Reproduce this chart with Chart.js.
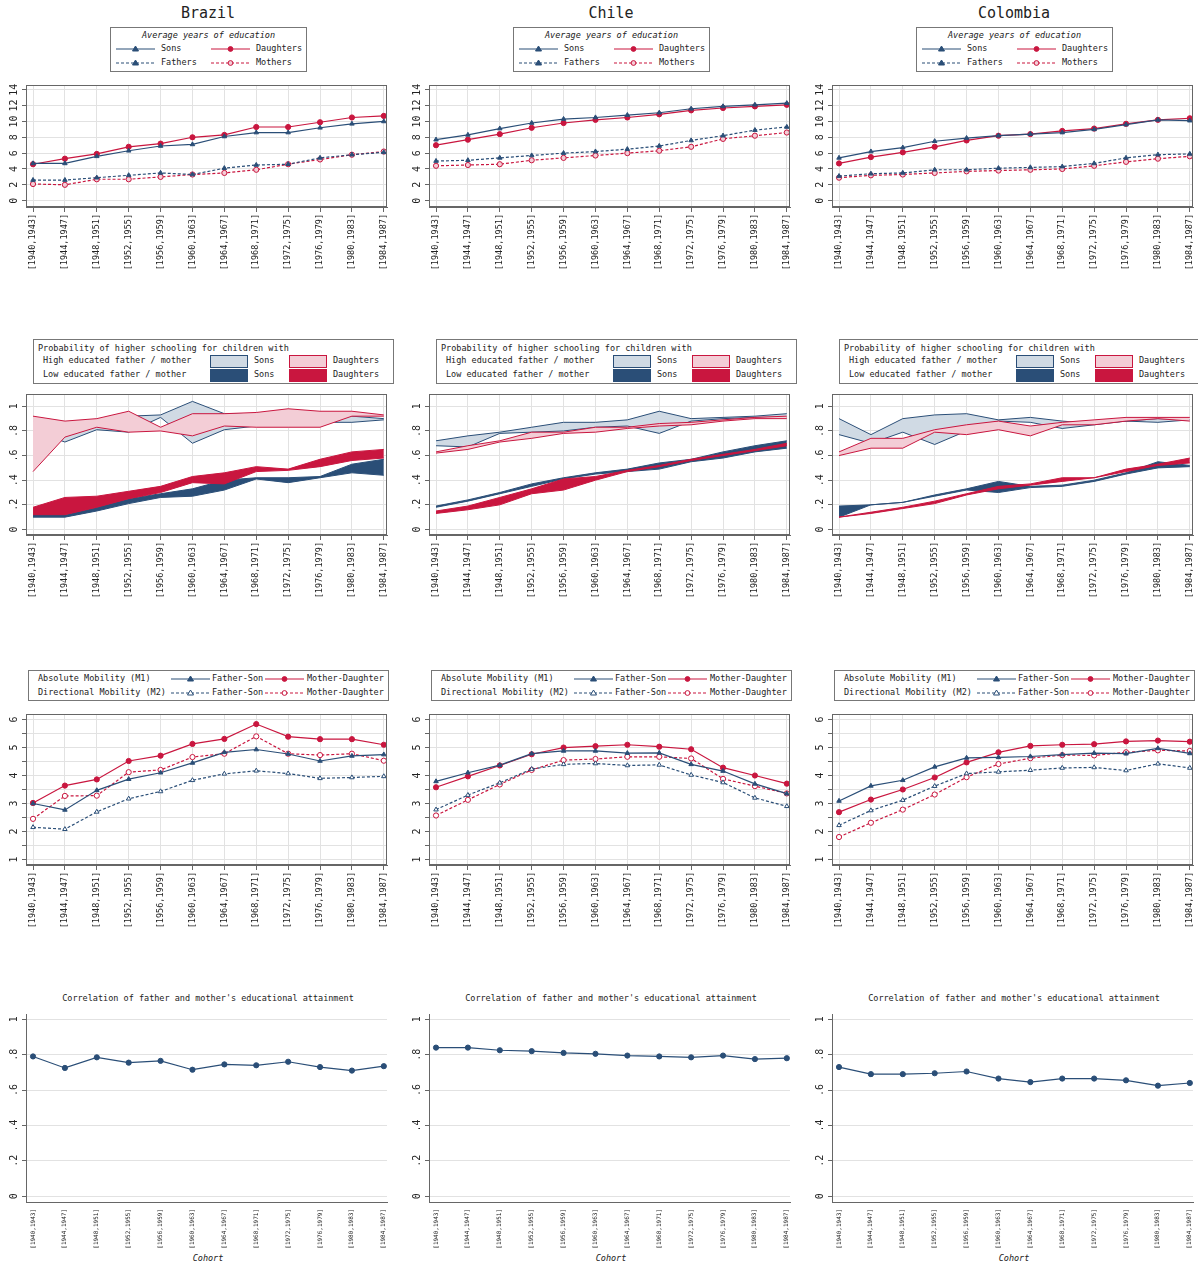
<!DOCTYPE html>
<html>
<head>
<meta charset="utf-8">
<script src="https://cdn.jsdelivr.net/npm/chart.js@4.4.0/dist/chart.umd.min.js"></script>
<style>
  body { margin: 0; background: #fff; width: 1198px; height: 1268px; position: relative; overflow: hidden;
         font-family: "DejaVu Sans Mono", monospace; color: #222; }
  .box { position: absolute; }
  .title { position: absolute; width: 400px; text-align: center; font-size: 15px; }
  .lg { position: absolute; border: 1px solid #777; background: #fff; font-size: 8.5px; white-space: nowrap; }
  .lg span, .lg svg { position: absolute; }
  .sub { position: absolute; width: 400px; text-align: center; font-size: 8.5px; }
  .cohort { position: absolute; width: 400px; text-align: center; font-size: 8.5px; font-style: italic; }
</style>
</head>
<body>
<script>
const cohorts = ['[1940,1943]', '[1944,1947]', '[1948,1951]', '[1952,1955]', '[1956,1959]', '[1960,1963]',
                 '[1964,1967]', '[1968,1971]', '[1972,1975]', '[1976,1979]', '[1980,1983]', '[1984,1987]'];
const countries = ['Brazil', 'Chile', 'Colombia'];

// Row 1: average years of education
const eduSons = [
    [4.7, 4.7, 5.6, 6.3, 6.9, 7.1, 8.1, 8.6, 8.6, 9.2, 9.7, 10.0],
    [7.7, 8.3, 9.1, 9.8, 10.3, 10.5, 10.8, 11.1, 11.6, 11.9, 12.1, 12.3],
    [5.4, 6.2, 6.7, 7.5, 7.9, 8.2, 8.4, 8.6, 9.0, 9.6, 10.2, 10.1]
];
const eduDaughters = [
    [4.6, 5.3, 5.9, 6.8, 7.2, 8.0, 8.3, 9.3, 9.3, 9.9, 10.5, 10.7],
    [7.0, 7.7, 8.4, 9.2, 9.8, 10.2, 10.5, 10.9, 11.4, 11.7, 11.9, 12.1],
    [4.7, 5.5, 6.1, 6.8, 7.6, 8.2, 8.4, 8.8, 9.1, 9.7, 10.2, 10.4]
];
const eduFathers = [
    [2.6, 2.6, 2.9, 3.2, 3.5, 3.3, 4.1, 4.5, 4.6, 5.4, 5.8, 6.1],
    [5.0, 5.1, 5.4, 5.7, 6.0, 6.2, 6.5, 6.9, 7.6, 8.2, 8.9, 9.3],
    [3.1, 3.4, 3.5, 3.9, 3.9, 4.1, 4.2, 4.3, 4.7, 5.4, 5.8, 5.9]
];
const eduMothers = [
    [2.1, 2.0, 2.7, 2.7, 3.0, 3.3, 3.5, 3.9, 4.6, 5.2, 5.8, 6.2],
    [4.4, 4.5, 4.6, 5.1, 5.4, 5.7, 6.0, 6.3, 6.8, 7.8, 8.2, 8.6],
    [2.9, 3.2, 3.3, 3.5, 3.7, 3.8, 3.9, 4.0, 4.4, 4.9, 5.3, 5.6]
];

// Row 2: probability of higher schooling, bands (lower / upper)
const highSonsLo = [
    [0.80, 0.71, 0.81, 0.79, 0.91, 0.70, 0.81, 0.84, 0.84, 0.87, 0.87, 0.89],
    [0.68, 0.67, 0.78, 0.79, 0.80, 0.83, 0.84, 0.78, 0.88, 0.90, 0.91, 0.91],
    [0.77, 0.70, 0.79, 0.69, 0.80, 0.88, 0.87, 0.82, 0.85, 0.88, 0.87, 0.89]
];
const highSonsHi = [
    [0.88, 0.86, 0.88, 0.92, 0.93, 1.04, 0.94, 0.94, 0.96, 0.95, 0.92, 0.90],
    [0.72, 0.76, 0.79, 0.83, 0.87, 0.87, 0.89, 0.96, 0.90, 0.91, 0.92, 0.94],
    [0.90, 0.77, 0.90, 0.93, 0.94, 0.89, 0.91, 0.88, 0.86, 0.88, 0.90, 0.89]
];
const highDauLo = [
    [0.47, 0.75, 0.83, 0.79, 0.80, 0.76, 0.84, 0.83, 0.83, 0.83, 0.92, 0.92],
    [0.62, 0.65, 0.71, 0.74, 0.78, 0.79, 0.82, 0.84, 0.85, 0.88, 0.90, 0.90],
    [0.60, 0.66, 0.66, 0.79, 0.77, 0.81, 0.76, 0.85, 0.85, 0.88, 0.90, 0.88]
];
const highDauHi = [
    [0.92, 0.88, 0.90, 0.96, 0.83, 0.94, 0.94, 0.95, 0.98, 0.96, 0.96, 0.93],
    [0.63, 0.68, 0.72, 0.79, 0.79, 0.83, 0.83, 0.86, 0.87, 0.89, 0.91, 0.92],
    [0.63, 0.74, 0.74, 0.81, 0.85, 0.88, 0.84, 0.87, 0.89, 0.91, 0.91, 0.91]
];
const lowSonsLo = [
    [0.10, 0.10, 0.15, 0.21, 0.26, 0.27, 0.32, 0.41, 0.38, 0.42, 0.46, 0.44],
    [0.18, 0.23, 0.29, 0.35, 0.41, 0.45, 0.47, 0.49, 0.55, 0.58, 0.63, 0.66],
    [0.10, 0.20, 0.22, 0.27, 0.32, 0.30, 0.34, 0.35, 0.39, 0.45, 0.50, 0.51]
];
const lowSonsHi = [
    [0.12, 0.12, 0.18, 0.25, 0.29, 0.33, 0.40, 0.42, 0.42, 0.43, 0.53, 0.57],
    [0.19, 0.24, 0.30, 0.37, 0.42, 0.46, 0.49, 0.54, 0.57, 0.63, 0.68, 0.72],
    [0.19, 0.20, 0.22, 0.28, 0.33, 0.39, 0.35, 0.36, 0.40, 0.46, 0.55, 0.52]
];
const lowDauLo = [
    [0.12, 0.12, 0.18, 0.25, 0.30, 0.38, 0.37, 0.47, 0.48, 0.51, 0.56, 0.58],
    [0.13, 0.16, 0.20, 0.29, 0.32, 0.40, 0.47, 0.51, 0.56, 0.60, 0.64, 0.68],
    [0.10, 0.13, 0.17, 0.21, 0.28, 0.33, 0.36, 0.39, 0.42, 0.47, 0.52, 0.54]
];
const lowDauHi = [
    [0.18, 0.26, 0.27, 0.31, 0.35, 0.43, 0.46, 0.51, 0.49, 0.57, 0.63, 0.65],
    [0.15, 0.19, 0.26, 0.33, 0.41, 0.43, 0.48, 0.52, 0.57, 0.61, 0.65, 0.70],
    [0.10, 0.14, 0.18, 0.23, 0.29, 0.35, 0.37, 0.42, 0.42, 0.49, 0.53, 0.58]
];

// Row 3: mobility measures
const m1FatherSon = [
    [3.00, 2.77, 3.47, 3.87, 4.10, 4.45, 4.83, 4.93, 4.77, 4.52, 4.70, 4.75],
    [3.79, 4.10, 4.37, 4.78, 4.88, 4.88, 4.80, 4.81, 4.40, 4.16, 3.70, 3.35],
    [3.09, 3.63, 3.83, 4.31, 4.63, 4.65, 4.68, 4.75, 4.80, 4.78, 4.97, 4.79]
];
const m1MotherDau = [
    [3.02, 3.64, 3.86, 4.52, 4.71, 5.13, 5.31, 5.84, 5.39, 5.30, 5.30, 5.10],
    [3.58, 3.97, 4.36, 4.76, 5.00, 5.05, 5.10, 5.03, 4.94, 4.28, 4.00, 3.71],
    [2.69, 3.14, 3.50, 3.93, 4.47, 4.83, 5.06, 5.10, 5.12, 5.22, 5.25, 5.21]
];
const m2FatherSon = [
    [2.15, 2.08, 2.70, 3.17, 3.43, 3.83, 4.06, 4.17, 4.07, 3.90, 3.93, 3.97],
    [2.78, 3.30, 3.74, 4.23, 4.40, 4.43, 4.36, 4.38, 4.02, 3.75, 3.20, 2.90],
    [2.22, 2.75, 3.12, 3.62, 4.07, 4.13, 4.19, 4.27, 4.29, 4.18, 4.42, 4.27]
];
const m2MotherDau = [
    [2.45, 3.27, 3.28, 4.12, 4.20, 4.66, 4.78, 5.40, 4.78, 4.73, 4.78, 4.53],
    [2.57, 3.13, 3.68, 4.20, 4.55, 4.59, 4.67, 4.67, 4.61, 3.88, 3.62, 3.36],
    [1.80, 2.31, 2.78, 3.32, 3.94, 4.41, 4.62, 4.73, 4.72, 4.83, 4.90, 4.88]
];

// Row 4: correlation of parents' education
const parentCorr = [
    [0.790, 0.725, 0.785, 0.755, 0.765, 0.715, 0.745, 0.740, 0.760, 0.730, 0.710, 0.735],
    [0.840, 0.840, 0.825, 0.820, 0.810, 0.805, 0.795, 0.790, 0.785, 0.795, 0.775, 0.780],
    [0.730, 0.690, 0.690, 0.695, 0.705, 0.665, 0.645, 0.665, 0.665, 0.655, 0.625, 0.640]
];

const NAVY = '#2a4e77';
const RED = '#c9163f';
const LIGHTBLUE = '#d0dae4';
const PINK = '#f3cdd6';
const GRID = '#e2e2e2';
const FONT = 'DejaVu Sans Mono';
const COL_X = [0, 403, 806];

const pts = arr => arr.map((y, i) => ({ x: i, y: y }));

// rotated y tick labels + full frame, Stata style
const stataPlugin = {
    id: 'stata',
    afterDraw(chart, args, opts) {
        const ctx = chart.ctx;
        const s = chart.scales.y;
        const a = chart.chartArea;
        ctx.save();
        ctx.fillStyle = '#222';
        ctx.font = '10px ' + FONT;
        ctx.textAlign = 'center';
        ctx.textBaseline = 'middle';
        s.ticks.forEach(t => {
            if (!t.label) return;
            const y = s.getPixelForValue(t.value);
            ctx.save();
            ctx.translate(a.left - 12, y);
            ctx.rotate(-Math.PI / 2);
            ctx.fillText(t.label, 0, 0);
            ctx.restore();
        });
        if (opts.frame) {
            ctx.strokeStyle = '#666';
            ctx.lineWidth = 1;
            ctx.strokeRect(a.left + 0.5, a.top + 0.5, a.right - a.left - 1, a.bottom - a.top - 1);
        }
        ctx.restore();
    }
};

function makeChart(col, top, plotH, labelH, yMin, yMax, yTicks, yLabel, datasets, row4) {
    const div = document.createElement('div');
    div.className = 'box';
    div.style.left = COL_X[col] + 'px';
    div.style.top = top + 'px';
    div.style.width = '400px';
    div.style.height = (plotH + labelH) + 'px';
    const canvas = document.createElement('canvas');
    div.appendChild(canvas);
    document.body.appendChild(div);

    new Chart(canvas, {
        type: 'line',
        data: { datasets: datasets },
        plugins: [stataPlugin],
        options: {
            responsive: true,
            maintainAspectRatio: false,
            animation: false,
            layout: { autoPadding: false, padding: { left: 0, right: 13, top: 0, bottom: 0 } },
            plugins: { legend: { display: false }, tooltip: { enabled: false }, stata: { frame: !row4 } },
            elements: { line: { tension: 0 } },
            scales: {
                x: {
                    type: 'linear',
                    min: -0.22, max: 11.1,
                    afterBuildTicks: s => { s.ticks = cohorts.map((c, i) => ({ value: i })); },
                    afterFit: s => { s.height = labelH; },
                    ticks: {
                        callback: v => cohorts[v],
                        minRotation: 90, maxRotation: 90, autoSkip: false,
                        color: '#222', font: { family: FONT, size: row4 ? 6 : 8.5 }, padding: 2
                    },
                    grid: { display: !row4, color: GRID, tickColor: '#666', tickLength: 5, drawOnChartArea: !row4 },
                    border: { color: '#666' }
                },
                y: {
                    type: 'linear',
                    min: yMin, max: yMax,
                    afterBuildTicks: s => { s.ticks = yTicks.map(v => ({ value: v })); },
                    afterFit: s => { s.width = 26; },
                    ticks: { callback: yLabel, color: 'rgba(0,0,0,0)', font: { family: FONT, size: 10 } },
                    grid: { color: GRID, tickColor: '#666', tickLength: 4 },
                    border: { color: '#666' }
                }
            }
        }
    });
}

function lineDs(data, color, dashed, shape, fill) {
    return {
        data: pts(data), borderColor: color, borderWidth: 1.2, borderDash: dashed ? [3, 2] : [],
        pointStyle: shape, pointRadius: 2.6, pointBorderWidth: 1,
        pointBorderColor: color, pointBackgroundColor: fill, fill: false
    };
}

function bandDs(lo, hi, edge, fillColor) {
    return [
        { data: pts(lo), borderColor: edge, borderWidth: 1, pointRadius: 0, fill: false },
        { data: pts(hi), borderColor: edge, borderWidth: 1, pointRadius: 0, fill: '-1', backgroundColor: fillColor }
    ];
}

const r1Ticks = [0, 1, 2, 3, 4, 5, 6, 7, 8, 9, 10, 11, 12, 13, 14];
const r2Ticks = [0, 0.1, 0.2, 0.3, 0.4, 0.5, 0.6, 0.7, 0.8, 0.9, 1];
const r3Ticks = [1, 1.5, 2, 2.5, 3, 3.5, 4, 4.5, 5, 5.5, 6];
const r4Ticks = [0, 0.2, 0.4, 0.6, 0.8, 1];
const propLabel = v => {
    const k = Math.round(v * 10);
    if (k % 2) return '';
    if (k === 0) return '0';
    if (k === 10) return '1';
    return '.' + k;
};

function legendLine(x, y, color, dashed, shape, fill) {
    const m = shape === 'triangle'
        ? `<polygon points="19.5,1 22.5,6 16.5,6" fill="${fill}" stroke="${color}" stroke-width="1"/>`
        : `<circle cx="19.5" cy="4" r="2.4" fill="${fill}" stroke="${color}" stroke-width="1"/>`;
    return `<svg style="left:${x}px;top:${y - 4}px" width="40" height="8">
      <line x1="0" y1="4" x2="39" y2="4" stroke="${color}" stroke-width="1.2" ${dashed ? 'stroke-dasharray="3,2"' : ''}/>${m}</svg>`;
}
function swatch(x, y, w, fill, edge) {
    return `<svg style="left:${x}px;top:${y - 6}px" width="${w}" height="13">
      <rect x="0.5" y="0.5" width="${w - 1}" height="12" fill="${fill}" stroke="${edge}" stroke-width="1"/></svg>`;
}
function addHtml(html) {
    const d = document.createElement('div');
    d.innerHTML = html;
    while (d.firstChild) document.body.appendChild(d.firstChild);
}

for (let c = 0; c < 3; c++) {
    const X = COL_X[c];
    addHtml(`<div class="title" style="left:${X + 8}px;top:4px">${countries[c]}</div>`);

    // Row 1 legend
    addHtml(`<div class="lg" style="left:${X + 110}px;top:27px;width:195px;height:43px">
      <span style="left:0;width:195px;text-align:center;top:2px;font-style:italic">Average years of education</span>
      ${legendLine(5, 21, NAVY, false, 'triangle', NAVY)}<span style="left:50px;top:15px">Sons</span>
      ${legendLine(100, 21, RED, false, 'circle', RED)}<span style="left:145px;top:15px">Daughters</span>
      ${legendLine(5, 35, NAVY, true, 'triangle', NAVY)}<span style="left:50px;top:29px">Fathers</span>
      ${legendLine(100, 35, RED, true, 'circle', PINK)}<span style="left:145px;top:29px">Mothers</span></div>`);
    makeChart(c, 76, 131, 70, -0.8, 14.6, r1Ticks, v => (v % 2 ? '' : String(v)), [
        lineDs(eduSons[c], NAVY, false, 'triangle', NAVY),
        lineDs(eduDaughters[c], RED, false, 'circle', RED),
        lineDs(eduFathers[c], NAVY, true, 'triangle', NAVY),
        lineDs(eduMothers[c], RED, true, 'circle', PINK)
    ]);

    // Row 2 legend
    addHtml(`<div class="lg" style="left:${X + 33}px;top:339px;width:359px;height:43px">
      <span style="left:4px;top:3px">Probability of higher schooling for children with</span>
      <span style="left:9px;top:15px">High educated father / mother</span>
      <span style="left:9px;top:29px">Low educated father / mother</span>
      ${swatch(176, 21, 38, LIGHTBLUE, NAVY)}<span style="left:220px;top:15px">Sons</span>
      ${swatch(255, 21, 38, PINK, RED)}<span style="left:299px;top:15px">Daughters</span>
      ${swatch(176, 35, 38, NAVY, NAVY)}<span style="left:220px;top:29px">Sons</span>
      ${swatch(255, 35, 38, RED, RED)}<span style="left:299px;top:29px">Daughters</span></div>`);
    // dataset 0 is drawn on top, so the last Stata layer comes first
    makeChart(c, 385, 150, 70, -0.045, 1.1, r2Ticks, propLabel, [
        ...bandDs(lowDauLo[c], lowDauHi[c], RED, RED),
        ...bandDs(lowSonsLo[c], lowSonsHi[c], NAVY, NAVY),
        ...bandDs(highDauLo[c], highDauHi[c], RED, PINK),
        ...bandDs(highSonsLo[c], highSonsHi[c], NAVY, LIGHTBLUE)
    ]);

    // Row 3 legend
    addHtml(`<div class="lg" style="left:${X + 28}px;top:670px;width:359px;height:29px">
      <span style="left:9px;top:2px">Absolute Mobility (M1)</span>
      <span style="left:9px;top:16px">Directional Mobility (M2)</span>
      ${legendLine(142, 8, NAVY, false, 'triangle', NAVY)}<span style="left:183px;top:2px">Father-Son</span>
      ${legendLine(236, 8, RED, false, 'circle', RED)}<span style="left:278px;top:2px">Mother-Daughter</span>
      ${legendLine(142, 22, NAVY, true, 'triangle', '#fff')}<span style="left:183px;top:16px">Father-Son</span>
      ${legendLine(236, 22, RED, true, 'circle', '#fff')}<span style="left:278px;top:16px">Mother-Daughter</span></div>`);
    makeChart(c, 705, 160, 70, 0.8, 6.2, r3Ticks, v => (Number.isInteger(v) ? String(v) : ''), [
        lineDs(m1FatherSon[c], NAVY, false, 'triangle', NAVY),
        lineDs(m1MotherDau[c], RED, false, 'circle', RED),
        lineDs(m2FatherSon[c], NAVY, true, 'triangle', '#fff'),
        lineDs(m2MotherDau[c], RED, true, 'circle', '#fff')
    ]);

    // Row 4
    addHtml(`<div class="sub" style="left:${X + 8}px;top:993px">Correlation of father and mother's educational attainment</div>`);
    makeChart(c, 1005, 197, 48, -0.033, 1.03, r4Ticks, propLabel, [
        lineDs(parentCorr[c], NAVY, false, 'circle', NAVY)
    ], true);
    addHtml(`<div class="cohort" style="left:${X + 8}px;top:1253px">Cohort</div>`);
}
</script>
</body>
</html>
